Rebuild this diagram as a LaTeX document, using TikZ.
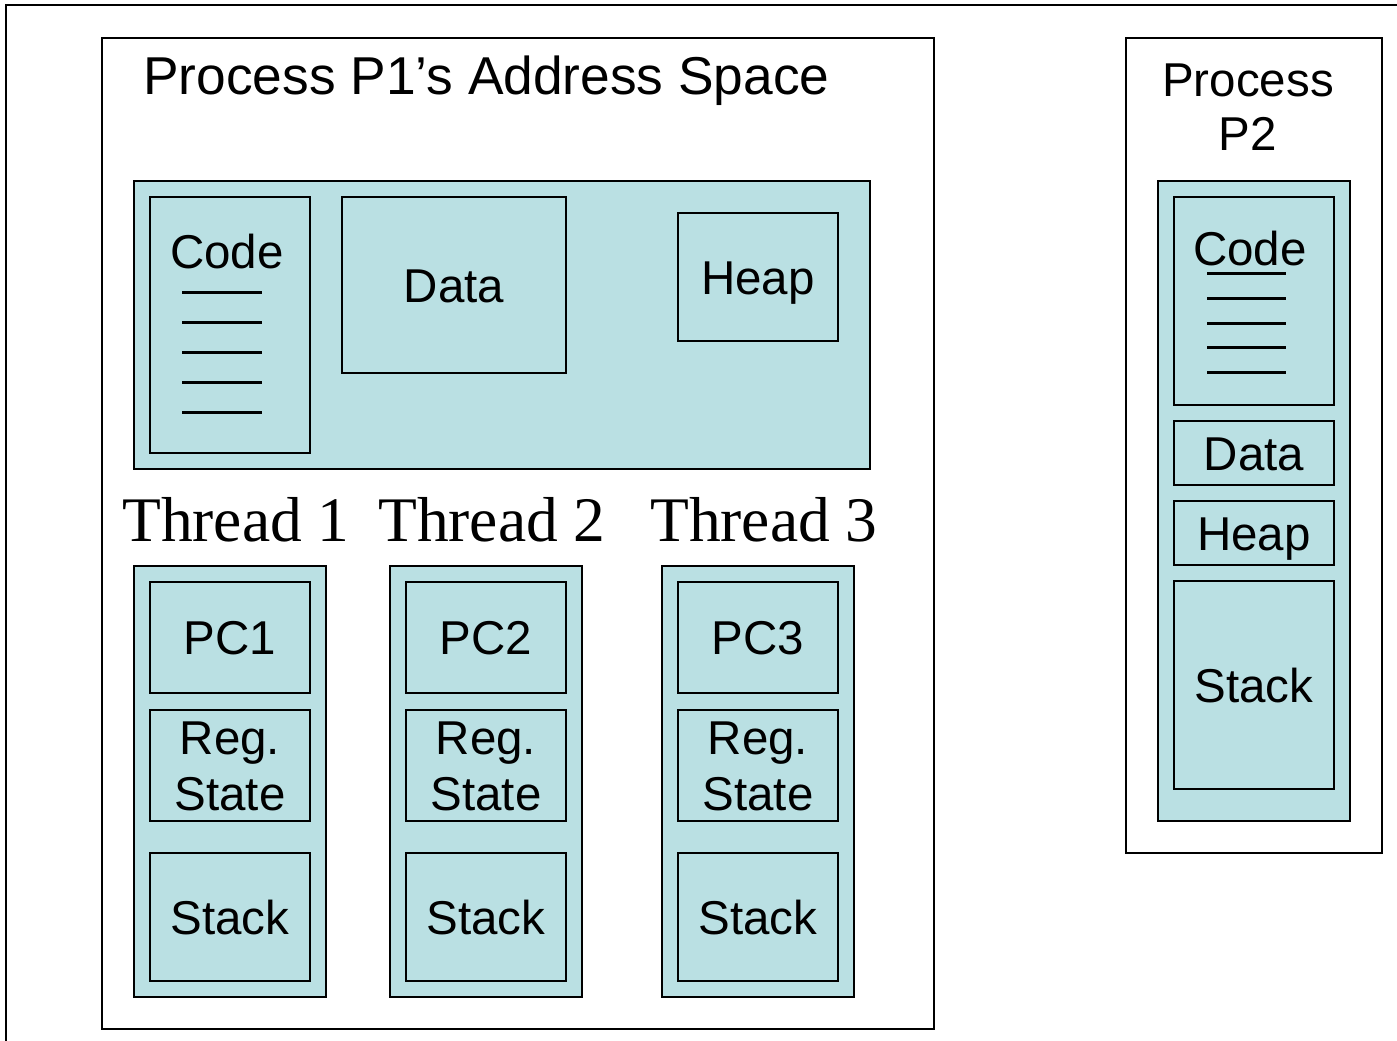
\documentclass[tikz,border=0pt]{standalone}
\usepackage{fontspec}
\setmainfont{Liberation Sans}
\newfontfamily\thserif{Liberation Serif}
\definecolor{shade}{RGB}{186,224,227}

\begin{document}
\begin{tikzpicture}[x=1pt,y=-1pt,
  frame/.style={draw=black, line width=1.8pt, inner sep=0pt},
  region/.style={frame, fill=shade},
  box/.style={region, font=\fontsize{47.5}{56}\selectfont, text height=34pt, text depth=0pt},
  lbl/.style={inner sep=0pt, anchor=base, font=\fontsize{47.5}{56}\selectfont},
  thlbl/.style={inner sep=0pt, anchor=base west, font=\thserif\fontsize{63.5}{70}\selectfont},
  codeline/.style={line width=3pt}]
\useasboundingbox (0,0) rectangle (1397,1041);

% outer frame, partly outside the page
\draw[frame] (6,1050) -- (6,5) -- (1405,5);

% ---- process P1 ----
\node[frame, minimum width=832pt, minimum height=991pt] (p1) at (518,533.5) {};
\node[anchor=base west, inner sep=0pt, font=\fontsize{53.3}{60}\selectfont] (p1title) at (143,95) {Process P1’s Address Space};

\node[region, minimum width=736pt, minimum height=288pt] (shared) at (502,325) {};
\node[box, minimum width=160pt, minimum height=256pt] (code1) at (230,325) {};
\node[lbl] (code1txt) at (227,268) {Code};
\foreach \k in {0,...,4}
  \draw[codeline] (182,292+30*\k) -- (262,292+30*\k);
\node[box, minimum width=224pt, minimum height=176pt] (data1) at (454,285) {Data};
\node[box, minimum width=160pt, minimum height=128pt] (heap1) at (758,277) {Heap};

% ---- threads ----
\foreach \i/\xc/\xs in {1/230/122, 2/486/378, 3/758/650} {
  \node[thlbl] (th\i) at (\xs,541) {Thread \i};
  \node[region, minimum width=192pt, minimum height=431pt] (t\i) at (\xc,781.5) {};
  \node[box, minimum width=160pt, minimum height=111pt] (pc\i) at (\xc,637.5) {PC\i};
  \node[box, minimum width=160pt, minimum height=111pt] (reg\i) at (\xc,765.5) {};
  \node[lbl] (reg\i a) at (\xc,754.5) {Reg.};
  \node[lbl] (reg\i b) at (\xc,810.5) {State};
  \node[box, minimum width=160pt, minimum height=128pt] (stk\i) at (\xc,917) {Stack};
}

% ---- process P2 ----
\node[frame, minimum width=256pt, minimum height=815pt] (p2) at (1254,445.5) {};
\node[lbl] (p2a) at (1248,96) {Process};
\node[lbl] (p2b) at (1248,150) {P2};
\node[region, minimum width=192pt, minimum height=640pt] (p2mem) at (1254,501) {};
\node[box, minimum width=160pt, minimum height=208pt] (code2) at (1254,301) {};
\node[lbl] (code2txt) at (1250,265) {Code};
\foreach \yy in {273,298,323,347,372}
  \draw[codeline] (1207,\yy) -- (1286,\yy);
\node[box, minimum width=160pt, minimum height=64pt] (data2) at (1254,453) {Data};
\node[box, minimum width=160pt, minimum height=64pt] (heap2) at (1254,533) {Heap};
\node[box, minimum width=160pt, minimum height=208pt] (stk2) at (1254,685) {Stack};
\end{tikzpicture}
\end{document}
